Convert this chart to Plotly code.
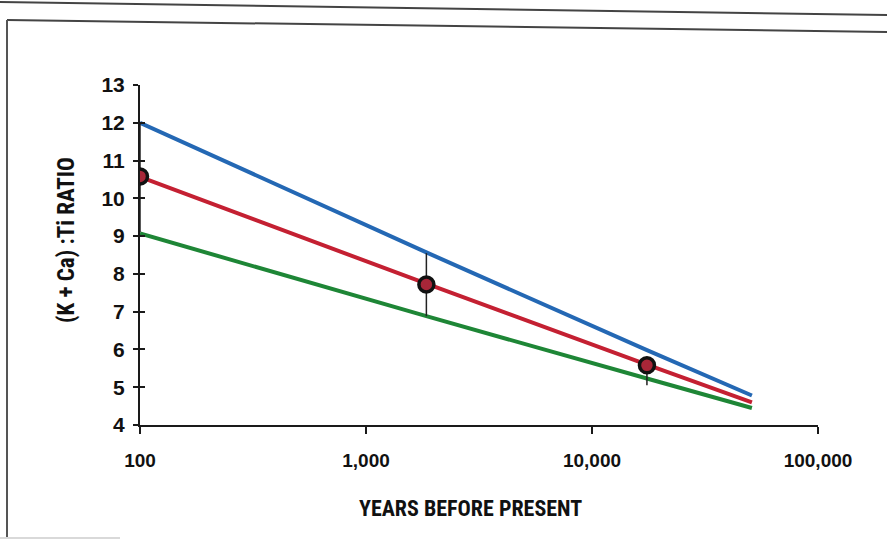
import plotly.graph_objects as go

# ---- data ----
line_years = [100, 1850, 17500, 51000]
blue_ratio = [12.0, 8.57, 5.98, 4.78]
red_ratio = [10.57, 7.74, 5.6, 4.6]
green_ratio = [9.07, 6.88, 5.23, 4.45]

sample_years = [100, 1850, 17500]
sample_ratio = [10.58, 7.72, 5.58]
sample_low = [9.1, 6.88, 5.05]
sample_high = [12.0, 8.55, 5.62]

x_tickvals = [100, 1000, 10000, 100000]
x_ticktext = ["100", "1,000", "10,000", "100,000"]
y_tickvals = [4, 5, 6, 7, 8, 9, 10, 11, 12, 13]

x_title = "YEARS BEFORE PRESENT"
y_title = "(K + Ca) :Ti RATIO"

NARROW = "Liberation Sans Narrow, Roboto Condensed, Arial Narrow, sans-serif"
WIDE = "Liberation Sans, Arial, sans-serif"

fig = go.Figure()
for vals, col in [(blue_ratio, "#2468b4"), (red_ratio, "#c42032"), (green_ratio, "#1e8636")]:
    fig.add_trace(go.Scatter(x=line_years, y=vals, mode="lines",
                             line=dict(color=col, width=4), showlegend=False,
                             hoverinfo="skip"))

fig.add_trace(go.Scatter(
    x=sample_years, y=sample_ratio, mode="markers", showlegend=False,
    marker=dict(size=15, color="#a82638", line=dict(color="#111111", width=3.5)),
    error_y=dict(type="data", symmetric=False,
                 array=[h - v for h, v in zip(sample_high, sample_ratio)],
                 arrayminus=[v - l for v, l in zip(sample_ratio, sample_low)],
                 color="#222222", thickness=1.5, width=0),
))

# invisible trace on overlay axis so inside ticks show (ticks cross the axis)
fig.add_trace(go.Scatter(x=[100], y=[4], yaxis="y2", mode="markers",
                         marker=dict(opacity=0), showlegend=False, hoverinfo="skip"))

fig.update_layout(
    width=887, height=549,
    margin=dict(l=140, r=69, t=85, b=124),
    paper_bgcolor="white", plot_bgcolor="white",
    xaxis=dict(type="log", range=[2, 5], tickvals=x_tickvals, ticktext=x_ticktext,
               showgrid=False, zeroline=False, showline=True, linecolor="#1a1a1a",
               linewidth=2, ticks="outside", ticklen=7, tickwidth=2, tickcolor="#1a1a1a",
               ticklabelstandoff=10,
               tickfont=dict(family=WIDE, size=19, color="#111111", weight="bold")),
    yaxis=dict(range=[4, 13], tickvals=y_tickvals, showgrid=False, zeroline=False,
               showline=True, linecolor="#1a1a1a", linewidth=2,
               ticks="outside", ticklen=5, tickwidth=2, tickcolor="#1a1a1a",
               ticklabelstandoff=4,
               tickfont=dict(family=WIDE, size=21, color="#111111", weight="bold")),
    yaxis2=dict(range=[4, 13], tickvals=y_tickvals, overlaying="y", side="left",
                showgrid=False, zeroline=False, showline=False, showticklabels=False,
                ticks="inside", ticklen=5, tickwidth=2, tickcolor="#1a1a1a"),
)

# helpers: page pixels -> paper coords (plot area is x 140..818, y 85..425)
def px(x):
    return (x - 140) / 678.0

def py(y):
    return (425 - y) / 340.0

fig.add_annotation(text=x_title, xref="paper", yref="paper", x=px(470), y=py(508),
                   showarrow=False, xanchor="center", yanchor="middle",
                   font=dict(family=NARROW, size=22, color="#111111", weight="bold"))
fig.add_annotation(text=y_title, xref="paper", yref="paper", x=px(66), y=py(240),
                   showarrow=False, textangle=-90, xanchor="center", yanchor="middle",
                   font=dict(family=NARROW, size=23, color="#111111", weight="bold"))

# scanned page frame (decoration)
frame = [
    (0, 2, 887, 15, "#444444", 2),
    (7, 20, 887, 32, "#444444", 2),
    (7, 20, 7, 537, "#555555", 2),
    (0, 538, 120, 538, "#cccccc", 1.5),
]
for x0, y0, x1, y1, c, w in frame:
    fig.add_shape(type="line", xref="paper", yref="paper",
                  x0=px(x0), y0=py(y0), x1=px(x1), y1=py(y1),
                  line=dict(color=c, width=w))

fig.write_html("out.html", config={"displayModeBar": False},
               post_script="document.body.style.margin='0';document.body.style.overflow='hidden';")
